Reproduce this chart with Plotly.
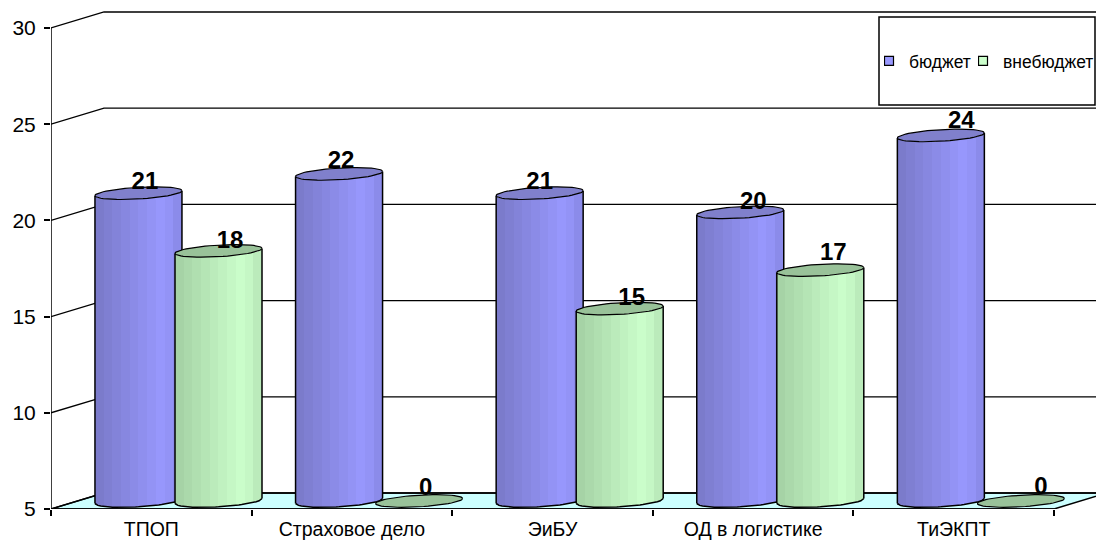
import numpy as np
import plotly.graph_objects as go

categories = ["ТПОП", "Страховое дело", "ЭиБУ", "ОД в логистике", "ТиЭКПТ"]
budget = [21, 22, 21, 20, 24]
offbudget = [18, 0, 15, 17, 0]
y_ticks = [5, 10, 15, 20, 25, 30]
series_names = ["бюджет", "внебюджет"]

# label offsets from the cap centre, in pixels (style, not data)
budget_label_dx = [6.5, 2, 0, 13, 20.5]
budget_label_dy = [10, 12, 10, 9, 13]
offbudget_label_dx = [11.5, 6.5, 12, 13, 20]
offbudget_label_dy = [9, 12, 10, 16, 13]

W, H = 1096, 543
PX_X = 200.6
PX_Y = 19.24
XMAX = (W - 51) / PX_X
YMAX = 30 + 28 / PX_Y
DX, DY = 53 / PX_X, 16 / PX_Y
HALF_DY = 8 / PX_Y
A = 43.5 / PX_X
B = 5.8 / PX_Y
K = 2.5 / PX_Y
BANDS = 10
STRIPS = 40
TH = np.linspace(0, 2 * np.pi, 61)


def band_colors(dark, peak, end):
    out = []
    for t in (np.arange(BANDS) + 0.5) / BANDS:
        if t < 0.78:
            c = np.array(dark) + (np.array(peak) - np.array(dark)) * t / 0.78
        else:
            c = np.array(peak) + (np.array(end) - np.array(peak)) * (t - 0.78) / 0.22
        out.append("rgb(%d,%d,%d)" % tuple(c))
    return out


def add_series(fig, values, offset, colors, cap, xa, ya):
    xs, bases, heights, cols = [], [], [], []
    ox, oy = [], []
    for i, v in enumerate(values):
        c = i + offset
        top = max(v, 5) + HALF_DY
        bottom = 5 + HALF_DY
        for j in range(STRIPS):
            u = -1 + (2 * j + 1) / STRIPS
            low = -B * np.sqrt(1 - u * u) + K * u
            xs.append(c + u * A)
            bases.append(bottom + low)
            heights.append(top - bottom)
            cols.append(colors[j * BANDS // STRIPS])
        if v > 5:
            uu = np.linspace(-1, 1, 31)
            arc = bottom - B * np.sqrt(1 - uu * uu) + K * uu
            ox += list(c + uu * A) + [None]
            oy += list(arc) + [None]
            ox += [c - A, c - A, None, c + A, c + A, None]
            oy += [bottom - K, top - K, None, bottom + K, top + K, None]
    fig.add_trace(go.Bar(x=xs, y=heights, base=bases, width=2 * A / STRIPS * 1.02,
                         marker=dict(color=cols, line=dict(width=0)),
                         showlegend=False, hoverinfo="skip", xaxis=xa, yaxis=ya))
    fig.add_trace(go.Scatter(x=ox, y=oy, mode="lines", line=dict(color="black", width=1.5),
                             showlegend=False, hoverinfo="skip", xaxis=xa, yaxis=ya))
    ex, ey = [], []
    for i, v in enumerate(values):
        c = i + offset
        top = max(v, 5) + HALF_DY
        ex += list(c + A * np.cos(TH)) + [None]
        ey += list(top + B * np.sin(TH) + K * np.cos(TH)) + [None]
    fig.add_trace(go.Scatter(x=ex, y=ey, mode="lines", fill="toself", fillcolor=cap,
                             line=dict(color="black", width=1.2), showlegend=False, hoverinfo="skip",
                             xaxis=xa, yaxis=ya))


fig = go.Figure()

# floor
fig.add_trace(go.Scatter(x=[0, 5, 5 + DX, DX, 0], y=[5, 5, 5 + DY, 5 + DY, 5], mode="lines", fill="toself",
                         fillcolor="#ccffff", line=dict(color="black", width=1.5), cliponaxis=False,
                         showlegend=False, hoverinfo="skip"))
# back wall gridlines
gx, gy = [], []
for t in y_ticks:
    gx += [0, DX, XMAX + 1, None]
    gy += [t, t + DY, t + DY, None]
fig.add_trace(go.Scatter(x=gx, y=gy, mode="lines", line=dict(color="black", width=1.3),
                         showlegend=False, hoverinfo="skip"))
# axis lines
fig.add_trace(go.Scatter(x=[0, 0, None, 0, 5], y=[y_ticks[0], y_ticks[-1], None, 5, 5], mode="lines",
                         line=dict(color="black", width=1.5), cliponaxis=False,
                         showlegend=False, hoverinfo="skip"))

add_series(fig, budget, 0.436, band_colors((122, 122, 200), (153, 153, 255), (136, 136, 228)), "#8080cc", "x2", "y2")
add_series(fig, offbudget, 0.835, band_colors((164, 208, 164), (204, 255, 204), (182, 230, 182)), "#99c299", "x3", "y3")

# data labels
lx, ly, lt = [], [], []
for vals, off, ddx, ddy in ((budget, 0.436, budget_label_dx, budget_label_dy),
                            (offbudget, 0.835, offbudget_label_dx, offbudget_label_dy)):
    for i, v in enumerate(vals):
        lx.append(i + off + ddx[i] / PX_X)
        ly.append(max(v, 5) + HALF_DY + ddy[i] / PX_Y)
        lt.append(str(v))
fig.add_trace(go.Scatter(x=lx, y=ly, text=lt, mode="text", textposition="middle center",
                         textfont=dict(family="Liberation Sans", size=24, color="black", weight="bold"),
                         showlegend=False, hoverinfo="skip", xaxis="x3", yaxis="y3"))

# legend entries
for name, col, lg in ((series_names[0], "#9999ff", "legend"), (series_names[1], "#ccffcc", "legend2")):
    fig.add_trace(go.Scatter(x=[None], y=[None], mode="markers", name=name, legend=lg, xaxis="x3", yaxis="y3",
                             marker=dict(symbol="square", size=9, color=col, line=dict(color="black", width=1.2))))

lg_common = dict(orientation="h", bgcolor="rgba(0,0,0,0)", borderwidth=0, itemwidth=30, indentation=-15,
                 font=dict(family="Liberation Sans", size=17.5, color="black"),
                 xref="paper", yref="paper", xanchor="left", yanchor="middle")

over_x = dict(range=[0, XMAX], overlaying="x", visible=False)
over_y = dict(range=[5, YMAX], overlaying="y", visible=False)

fig.update_layout(
    width=W, height=H, margin=dict(l=51, r=0, t=0, b=34, autoexpand=False), paper_bgcolor="white", plot_bgcolor="white",
    barmode="overlay", bargap=0,
    font=dict(family="Liberation Sans", color="black"),
    xaxis=dict(range=[0, XMAX], showgrid=False, zeroline=False, showline=False, automargin=False,
               tickvals=[i + 0.5 for i in range(len(categories))], ticktext=categories,
               ticks="outside", ticklen=3, tickcolor="rgba(0,0,0,0)", tickfont=dict(size=19.5, color="black"),
               ticklabelstandoff=0,
               minor=dict(tickvals=list(range(len(categories) + 1)), ticks="outside", ticklen=6, tickwidth=1.5,
                          tickcolor="black", showgrid=False)),
    yaxis=dict(range=[5, YMAX], showgrid=False, zeroline=False, showline=False, tickvals=y_ticks, automargin=False,
               ticks="outside", ticklen=6, tickwidth=1.5, tickcolor="black", tickfont=dict(size=21, color="black"),
               ticklabelstandoff=4),
    xaxis2=over_x, yaxis2=over_y, xaxis3=over_x, yaxis3=over_y,
    shapes=[dict(type="rect", xref="paper", yref="paper", layer="above",
                 x0=(879 - 51) / (W - 51), x1=(1095 - 51) / (W - 51), y0=(509 - 105) / 509, y1=(509 - 17) / 509,
                 fillcolor="white", line=dict(color="black", width=1.5))],
    legend=dict(x=(884 - 51) / (W - 51), y=(509 - 61) / 509, **lg_common),
    legend2=dict(x=(978 - 51) / (W - 51), y=(509 - 61) / 509, **lg_common),
    hovermode=False,
)

fig.write_html("out.html", config=dict(displayModeBar=False),
               post_script="document.body.style.margin='0';document.body.style.overflow='hidden';")
